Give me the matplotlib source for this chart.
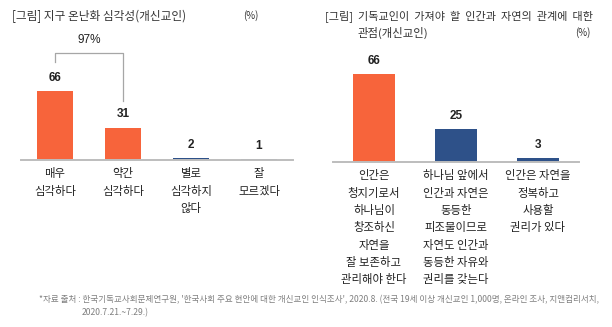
import numpy as np
import matplotlib.pyplot as plt

plt.rcParams['font.family'] = ['Noto Sans CJK KR', 'DejaVu Sans']

# left chart: seriousness of global warming
left_cats = ["매우\n심각하다", "약간\n심각하다", "별로\n심각하지\n않다", "잘\n모르겠다"]
left_vals = [66, 31, 2, 1]
left_cols = ["#F7643B", "#F7643B", "#2E5189", "#2E5189"]
bracket_total = "97%"

# right chart: relationship between humans and nature
right_cats = ["인간은\n청지기로서\n하나님이\n창조하신\n자연을\n잘 보존하고\n관리해야 한다",
              "하나님 앞에서\n인간과 자연은\n동등한\n피조물이므로\n자연도 인간과\n동등한 자유와\n권리를 갖는다",
              "인간은 자연을\n정복하고\n사용할\n권리가 있다"]
right_vals = [66, 25, 3]
right_cols = ["#F7643B", "#2E5189", "#2E5189"]

W, H = 612, 327
fig = plt.figure(figsize=(W / 100, H / 100), dpi=100)


def px_axes(x0, x1, ybase, height):
    return fig.add_axes([x0 / W, 1 - ybase / H, (x1 - x0) / W, height / H])


def px_text(x, y, s, **kw):
    fig.text(x / W, 1 - y / H, s, **kw)


def style(ax, n, cats):
    for s in ["top", "right", "left"]:
        ax.spines[s].set_visible(False)
    ax.spines["bottom"].set_color("#BDBDBD")
    ax.spines["bottom"].set_linewidth(1.4)
    ax.set_yticks([])
    ax.set_xlim(-0.5, n - 0.5)
    ax.set_xticks(range(n))
    ax.set_xticklabels(cats, fontsize=8.2, color="#222222", linespacing=1.7)
    ax.tick_params(axis="x", length=0, pad=6)


# left
ax1 = px_axes(21, 293, 160, 115)
ax1.bar(range(4), left_vals, width=0.52, color=left_cols)
ax1.set_ylim(0, 110)
style(ax1, 4, left_cats)
for i, v in enumerate(left_vals):
    ax1.annotate(str(v), (i, v), xytext=(0, 9.5), textcoords="offset points",
                 ha="center", va="center", fontsize=8.5, fontweight="bold",
                 family="Liberation Sans", color="#222222")
# bracket over the first two bars
ax1.plot([0, 0, 1, 1], [94, 102.5, 102.5, 56.5], color="#A6A6A6", lw=0.9, clip_on=False)
ax1.text(0.5, 115, bracket_total, ha="center", va="center", fontsize=8.5,
         family="Liberation Sans", color="#222222", clip_on=False)

# right
ax2 = px_axes(333, 579, 162, 106.4)
ax2.bar(range(3), right_vals, width=0.52, color=right_cols)
ax2.set_ylim(0, 80)
style(ax2, 3, right_cats)
for i, v in enumerate(right_vals):
    ax2.annotate(str(v), (i, v), xytext=(0, 9.5), textcoords="offset points",
                 ha="center", va="center", fontsize=8.5, fontweight="bold",
                 family="Liberation Sans", color="#222222")

# titles
tc = "#333333"
px_text(12, 16, "[그림] 지구 온난화 심각성(개신교인)", fontsize=8.4, color=tc, va="center")
px_text(243, 16, "(%)", fontsize=7, color=tc, va="center")
px_text(325, 16, "[그림]  기독교인이  가져야  할  인간과  자연의  관계에  대한", fontsize=8.0, color=tc, va="center")
px_text(358, 33, "관점(개신교인)", fontsize=8.2, color=tc, va="center")
px_text(591, 33, "(%)", fontsize=7, color=tc, va="center", ha="right")

# source note
nc = "#7F7F7F"
px_text(39, 300, "*자료 출처 : 한국기독교사회문제연구원, '한국사회 주요 현안에 대한 개신교인 인식조사', 2020.8. "
        "(전국 19세 이상 개신교인 1,000명, 온라인 조사, 지앤컴리서치,", fontsize=6.15, color=nc, va="center")
px_text(82, 313, "2020.7.21.~7.29.)", fontsize=6.15, color=nc, va="center")

fig.savefig("out.png", dpi=100)
